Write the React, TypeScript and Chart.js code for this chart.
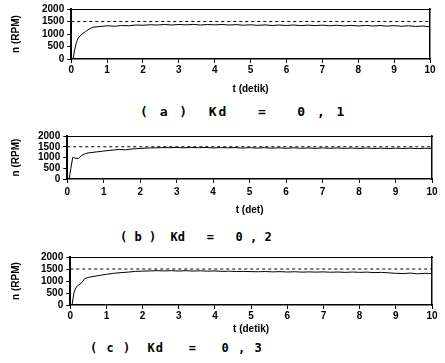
import React, { useEffect, useRef } from "react";
import { Chart, registerables } from "chart.js";

Chart.register(...registerables);

const TIME = [0, 0.05, 0.1, 0.15, 0.2, 0.3, 0.4, 0.5, 0.6, 0.8, 1.0,
  1.2, 1.4, 1.6, 1.8, 2.0, 2.2, 2.4, 2.6, 2.8, 3.0,
  3.2, 3.4, 3.6, 3.8, 4.0, 4.2, 4.4, 4.6, 4.8, 5.0,
  5.2, 5.4, 5.6, 5.8, 6.0, 6.2, 6.4, 6.6, 6.8, 7.0,
  7.2, 7.4, 7.6, 7.8, 8.0, 8.2, 8.4, 8.6, 8.8, 9.0,
  9.2, 9.4, 9.6, 9.8, 10.0];

const SPEED_A = [0, 0, 400, 700, 850, 1000, 1100, 1200, 1270, 1300, 1330,
  1310, 1340, 1330, 1360, 1350, 1370, 1360, 1380, 1360, 1380,
  1365, 1385, 1360, 1380, 1365, 1380, 1360, 1375, 1350, 1370,
  1345, 1365, 1340, 1360, 1340, 1360, 1335, 1355, 1335, 1355,
  1330, 1350, 1325, 1345, 1320, 1345, 1320, 1340, 1315, 1335,
  1310, 1330, 1300, 1320, 1290];

const SPEED_B = [0, 0, 500, 1000, 980, 950, 1100, 1180, 1220, 1260, 1300,
  1340, 1370, 1360, 1400, 1420, 1440, 1450, 1460, 1455, 1465,
  1450, 1465, 1455, 1465, 1445, 1460, 1450, 1460, 1440, 1455,
  1440, 1455, 1435, 1450, 1430, 1450, 1430, 1445, 1425, 1445,
  1430, 1445, 1425, 1440, 1420, 1440, 1420, 1435, 1415, 1435,
  1420, 1435, 1415, 1430, 1420];

const SPEED_C = [0, 0, 500, 700, 800, 900, 1100, 1150, 1180, 1230, 1280,
  1320, 1350, 1370, 1400, 1410, 1420, 1430, 1420, 1430, 1415,
  1430, 1415, 1425, 1410, 1420, 1400, 1410, 1395, 1400, 1390,
  1385, 1395, 1380, 1390, 1375, 1385, 1370, 1380, 1370, 1380,
  1365, 1375, 1360, 1375, 1360, 1370, 1350, 1360, 1340, 1320,
  1310, 1330, 1300, 1320, 1310];

const SETPOINT_T = [0, 10];
const SETPOINT = [1500, 1500];

const X_TITLES = ["t (detik)", "t (det)", "t (detik)"];
const CAPTIONS = ["( a )  Kd   =   0 , 1", "( b )  Kd   =   0 , 2", "( c )  Kd   =   0 , 3"];

const FONT = { family: "'Liberation Sans', Arial, sans-serif", size: 10, weight: "bold" as const };

type PanelProps = {
  top: number; height: number; values: number[]; xTitle: string;
  padTop: number; padRight: number; padLeft: number;
  xTickPad: number; xTitlePad: number; yTitlePad: number;
};

function Panel(props: PanelProps) {
  const ref = useRef<HTMLCanvasElement | null>(null);
  useEffect(() => {
    if (!ref.current) return;
    const chart = new Chart(ref.current, {
      type: "line",
      data: {
        datasets: [
          {
            data: TIME.map((t, i) => ({ x: t, y: props.values[i] })),
            borderColor: "#000",
            borderWidth: 1,
            pointRadius: 0,
            tension: 0,
          },
          {
            data: SETPOINT_T.map((t, i) => ({ x: t, y: SETPOINT[i] })),
            borderColor: "#000",
            borderWidth: 1,
            borderDash: [3, 3],
            pointRadius: 0,
          },
        ],
      },
      options: {
        animation: false,
        responsive: false,
        layout: { padding: { top: props.padTop, right: props.padRight, left: props.padLeft, bottom: 0 } },
        plugins: { legend: { display: false }, tooltip: { enabled: false } },
        scales: {
          x: {
            type: "linear",
            min: 0,
            max: 10,
            ticks: { stepSize: 1, color: "#000", font: FONT, padding: props.xTickPad, autoSkip: false, maxRotation: 0 },
            title: { display: true, text: props.xTitle, color: "#000", font: FONT, padding: { top: props.xTitlePad, bottom: 0 } },
            grid: { display: true, drawOnChartArea: false, color: "#000", tickLength: 4 },
            border: { color: "#000", width: 1.5 },
          },
          y: {
            min: 0,
            max: 2000,
            ticks: { stepSize: 500, color: "#000", font: FONT, padding: 3, autoSkip: false, callback: (v: any) => String(v) },
            title: { display: true, text: "n (RPM)", color: "#000", font: FONT, padding: { top: 2, bottom: props.yTitlePad } },
            grid: { display: true, drawOnChartArea: false, color: "#000", tickLength: 4 },
            border: { color: "#000", width: 2 },
          },
          x2: {
            type: "linear",
            position: "top",
            min: 0,
            max: 10,
            ticks: { display: false },
            grid: { display: false, drawTicks: false },
            border: { color: "#000", width: 1 },
          },
          y2: {
            position: "right",
            min: 0,
            max: 2000,
            ticks: { display: false },
            grid: { display: false, drawTicks: false },
            border: { color: "#000", width: 1.5 },
          },
        },
      },
    } as any);
    return () => chart.destroy();
  }, []);
  return (
    <canvas
      ref={ref}
      width={445}
      height={props.height}
      style={{ position: "absolute", left: 0, top: props.top, width: 445, height: props.height, display: "block" }}
    />
  );
}

export default function App() {
  const capStyle = (top: number, left: number, size: number, spacing: number): React.CSSProperties => ({
    position: "absolute",
    top,
    left,
    font: `bold ${size}px 'DejaVu Sans Mono', monospace`,
    letterSpacing: `${spacing}px`,
    color: "#000",
    whiteSpace: "pre",
    lineHeight: "14px",
  });
  return (
    <div style={{ position: "absolute", left: 0, top: 0, width: 445, height: 363, background: "#fff", overflow: "hidden" }}>
      <Panel top={0} height={95} values={SPEED_A} xTitle={X_TITLES[0]} padTop={7} padRight={15} padLeft={8} xTickPad={1} xTitlePad={6} yTitlePad={17} />
      <div style={capStyle(105, 140, 13, 2)}>{CAPTIONS[0]}</div>
      <Panel top={127} height={89} values={SPEED_B} xTitle={X_TITLES[1]} padTop={8} padRight={13} padLeft={8} xTickPad={3} xTitlePad={3} yTitlePad={13} />
      <div style={capStyle(230, 120, 12, 0)}>{CAPTIONS[1]}</div>
      <Panel top={248} height={87} values={SPEED_C} xTitle={X_TITLES[2]} padTop={8} padRight={13} padLeft={8} xTickPad={1} xTitlePad={0} yTitlePad={16} />
      <div style={capStyle(341, 90, 12, 1)}>{CAPTIONS[2]}</div>
    </div>
  );
}
